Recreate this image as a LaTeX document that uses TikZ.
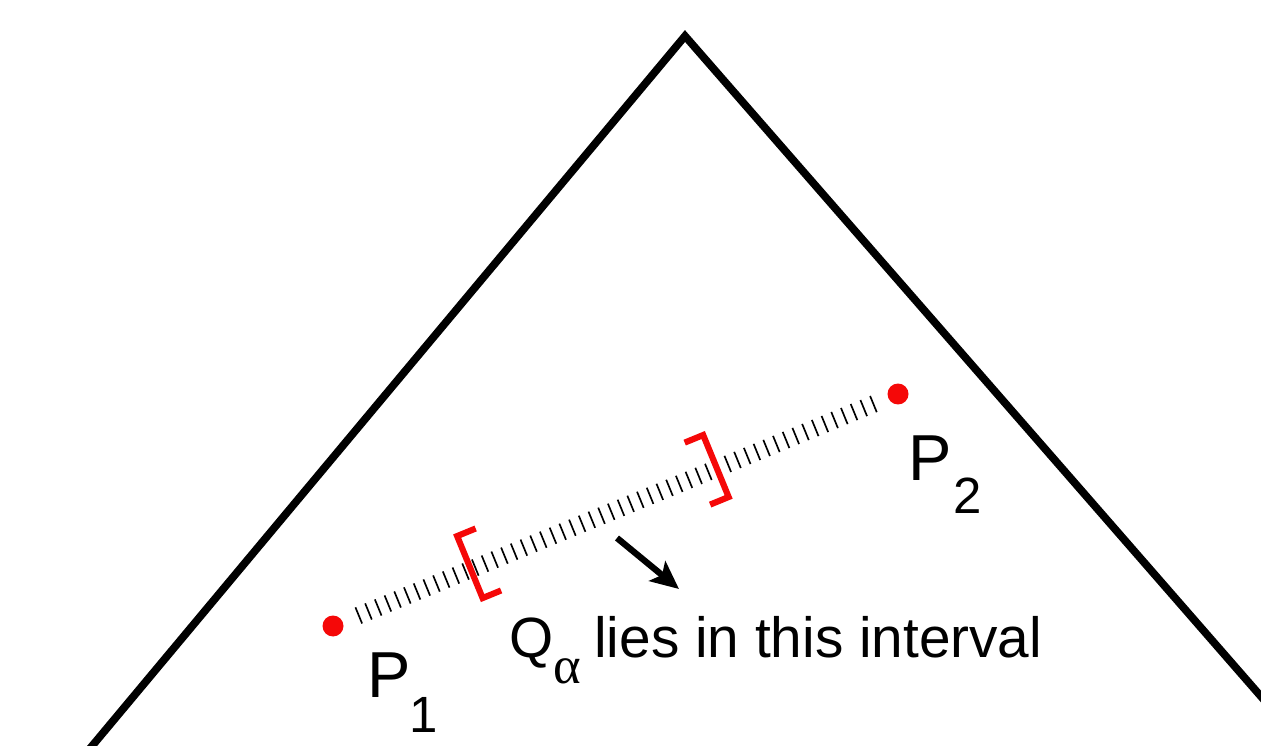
\documentclass[tikz,border=0pt]{standalone}
\usepackage{fontspec}
\setmainfont{Liberation Sans}
\newfontfamily\grkfont{Liberation Serif}
\usetikzlibrary{arrows.meta,decorations.pathreplacing}
\definecolor{ptred}{RGB}{245,8,8}
\begin{document}
\begin{tikzpicture}[x=0.02cm,y=-0.02cm,
  edge/.style={line width=4.4pt, line join=miter},
  pt/.style={circle, fill=ptred, inner sep=0pt, minimum size=0.42cm},
  hatch/.style={decorate, line width=0.95pt,
    decoration={ticks, segment length=0.21cm, amplitude=0.175cm,
      pre=moveto, pre length=0.34cm, post=moveto, post length=0.3cm}},
  bracket/.style={draw=ptred, line width=3.5pt, line join=miter},
  bigP/.style={font=\fontsize{37}{44}\selectfont, inner sep=0pt, anchor=base west},
  subs/.style={font=\fontsize{29}{35}\selectfont, inner sep=0pt, anchor=base west},
  lbl/.style={font=\fontsize{32.3}{38}\selectfont, inner sep=0pt, anchor=base west},
  greek/.style={font=\grkfont\fontsize{30}{36}\selectfont, inner sep=0pt, anchor=base west},
  pointer/.style={line width=3.6pt, -{Stealth[length=16pt, width=14.5pt, inset=3.5pt]}}
]
\useasboundingbox (0,0) rectangle (1261,746);
\clip (0,0) rectangle (1261,746);
\fill[white] (0,0) rectangle (1261,746);

% triangle
\coordinate (L) at (62,782);
\coordinate (A) at (685,36);
\coordinate (R) at (1319,763);
\draw[edge] (L) -- (A) -- (R);

% points
\node[pt] (P1) at (333,626) {};
\node[pt] (P2) at (898,394) {};

% hatched segment
\draw[hatch] (P1) -- (P2);

% brackets
\begin{scope}[shift={(P1.center)}, rotate=22.33]
  \draw[bracket] (169,-36) -- (149,-36) -- (149,31) -- (169,31);
  \draw[bracket] (395,-36) -- (415,-36) -- (415,31) -- (395,31);
\end{scope}

% labels
\node[bigP] (p1P) at (367,697) {P};
\node[subs] (p1s) at (409,732) {1};
\node[bigP] (p2P) at (908,480) {P};
\node[subs] (p2s) at (953,513) {2};

\node[lbl] (Q) at (509,657) {Q};
\node[greek] (al) at (553,683) {α};
\node[lbl] (txt) at (594,657) {lies in this interval};

% arrow
\coordinate (as) at (617,538);
\coordinate (ae) at (679,589);
\draw[pointer] (as) -- (ae);
\end{tikzpicture}
\end{document}
